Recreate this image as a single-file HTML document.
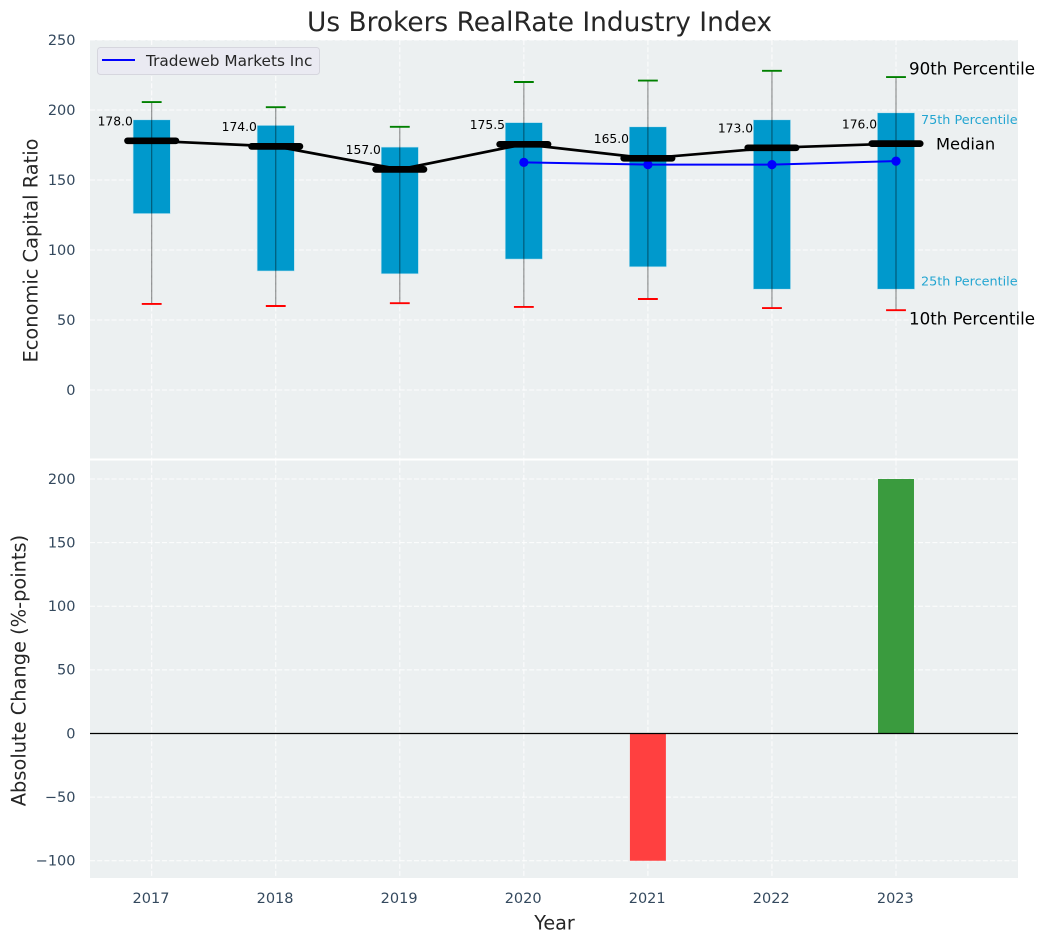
<!DOCTYPE html>
<html lang="en">
<head>
<meta charset="utf-8">
<title>Us Brokers RealRate Industry Index</title>
<style>
html,body{margin:0;padding:0;background:#fff;width:1044px;height:942px;overflow:hidden}
svg{display:block;font-family:"DejaVu Sans","Liberation Sans",sans-serif}
</style>
</head>
<body>
<svg id="chart" xmlns="http://www.w3.org/2000/svg" width="1044" height="942" viewBox="0 0 1044 942"></svg>
<script>
const years = [2017, 2018, 2019, 2020, 2021, 2022, 2023];
const p90 = [205.7, 202, 188, 220, 221, 228, 223.5];
const q75 = [193, 189, 173.5, 191, 188, 193, 198];
const medians = [178, 174, 157.6, 175.5, 165.5, 173, 176];
const medianLabels = ['178.0', '174.0', '157.0', '175.5', '165.0', '173.0', '176.0'];
const q25 = [126, 85, 83, 93.5, 88, 72, 72];
const p10 = [61.5, 60, 62, 59.3, 65, 58.5, 57];
const companyYears = [2020, 2021, 2022, 2023];
const companyValues = [162.6, 161, 161, 163.5];
const changeYears = [2021, 2023];
const changeValues = [-100, 200];
const topTicks = [0, 50, 100, 150, 200, 250];
const bottomTicks = [-100, -50, 0, 50, 100, 150, 200];

const svg = document.getElementById('chart');
const NS = 'http://www.w3.org/2000/svg';
const L = 90, R = 1018, T1 = 40, B1 = 458.5, T2 = 460.5, B2 = 878;
const X = v => 151.7 + (v - 2017) * 124.05;
const Y1 = v => 390 - v * 1.4;
const Y2 = v => 733.5 - v * 1.2725;

function make(tag, props, text) {
  const el = document.createElementNS(NS, tag);
  for (const k in props) el.setAttribute(k, props[k]);
  if (text !== undefined) el.textContent = text;
  svg.appendChild(el);
  return el;
}
let el;

el = make('rect', {x: L, y: T1, width: R - L, height: B1 - T1, fill: '#ecf0f1'});


el = make('rect', {x: L, y: T2, width: R - L, height: B2 - T2, fill: '#ecf0f1'});



const gridStyle = {stroke: '#fff', 'stroke-width': 1, 'stroke-dasharray': '5 2.2', opacity: 0.9};
years.forEach(yr => {
  el = make('line', {x1: X(yr), x2: X(yr), y1: T1, y2: B1, ...gridStyle});
  
  
  el = make('line', {x1: X(yr), x2: X(yr), y1: T2, y2: B2, ...gridStyle});
  
  
  el = make('text', {x: X(yr) - 0.7, y: 899, 'text-anchor': 'middle', 'dominant-baseline': 'central', 'font-size': 14.5, fill: '#34495e'}, String(yr));
  
  
});
topTicks.forEach(t => {
  el = make('line', {x1: L, x2: R, y1: Y1(t), y2: Y1(t), ...gridStyle});
  
  
  el = make('text', {x: 75.5, y: Y1(t) + 0.8, 'text-anchor': 'end', 'dominant-baseline': 'central', 'font-size': 14.5, fill: '#34495e'}, String(t));
  
  
});
bottomTicks.forEach(t => {
  el = make('line', {x1: L, x2: R, y1: Y2(t), y2: Y2(t), ...gridStyle});
  
  
  el = make('text', {x: 75.5, y: Y2(t) + 0.8, 'text-anchor': 'end', 'dominant-baseline': 'central', 'font-size': 14.5, fill: '#34495e'}, String(t).replace('-', '\u2212'));
  
  
});

const halfBox = 0.15;
years.forEach((yr, i) => {
  el = make('rect', {x: X(yr - halfBox), y: Y1(q75[i]), width: X(yr + halfBox) - X(yr - halfBox), height: Y1(q25[i]) - Y1(q75[i]), fill: '#0099cc', stroke: '#bfe3ef', 'stroke-width': 0.6});
  
  
});
years.forEach((yr, i) => {
  el = make('line', {x1: X(yr), x2: X(yr), y1: Y1(p90[i]), y2: Y1(p10[i]), stroke: '#000', 'stroke-opacity': 0.45, 'stroke-width': 1.1});
  
  
  el = make('line', {x1: X(yr - 0.08), x2: X(yr + 0.08), y1: Y1(p90[i]), y2: Y1(p90[i]), stroke: '#008000', 'stroke-width': 1.9});
  
  
  el = make('line', {x1: X(yr - 0.08), x2: X(yr + 0.08), y1: Y1(p10[i]), y2: Y1(p10[i]), stroke: '#ff0000', 'stroke-width': 1.9});
  
  
});

el = make('polyline', {points: years.map((yr, i) => X(yr) + ',' + Y1(medians[i])).join(' '), fill: 'none', stroke: '#000', 'stroke-width': 2.7});



el = make('polyline', {points: companyYears.map((yr, i) => X(yr) + ',' + Y1(companyValues[i])).join(' '), fill: 'none', stroke: '#0000ff', 'stroke-width': 2});


companyYears.forEach((yr, i) => {
  el = make('circle', {cx: X(yr), cy: Y1(companyValues[i]), r: 4.6, fill: '#0000ff'});
  
  
});

years.forEach((yr, i) => {
  el = make('line', {x1: X(yr - 0.195), x2: X(yr + 0.195), y1: Y1(medians[i]), y2: Y1(medians[i]), stroke: '#000', 'stroke-width': 6.7, 'stroke-linecap': 'round'});
  
  
  el = make('text', {x: X(yr) - 18.9, y: Y1(medians[i]) - 19.2, 'text-anchor': 'end', 'dominant-baseline': 'central', 'font-size': 12.3, fill: '#000'}, medianLabels[i]);
  
  
});

const last = years.length - 1;
const lastX = X(years[last]);
el = make('text', {x: lastX + 13, y: Y1(p90[last]) - 8.5, 'dominant-baseline': 'central', 'font-size': 16.7, fill: '#000'}, '90th Percentile');


el = make('text', {x: lastX + 25, y: Y1(q75[last]) + 7.5, 'dominant-baseline': 'central', 'font-size': 12.8, fill: '#0099cc', opacity: 0.85}, '75th Percentile');


el = make('text', {x: lastX + 40, y: Y1(medians[last]) + 0.5, 'dominant-baseline': 'central', 'font-size': 16.3, fill: '#000'}, 'Median');


el = make('text', {x: lastX + 25, y: Y1(q25[last]) - 7, 'dominant-baseline': 'central', 'font-size': 12.8, fill: '#0099cc', opacity: 0.85}, '25th Percentile');


el = make('text', {x: lastX + 13, y: Y1(p10[last]) + 8.5, 'dominant-baseline': 'central', 'font-size': 16.7, fill: '#000'}, '10th Percentile');



const halfChange = 0.145;
changeYears.forEach((yr, i) => {
  const v = changeValues[i];
  el = make('rect', {x: X(yr - halfChange), y: Math.min(Y2(v), Y2(0)), width: X(yr + halfChange) - X(yr - halfChange), height: Math.abs(Y2(v) - Y2(0)), fill: v < 0 ? '#ff4040' : '#3a9b3e'});
  
  
});
el = make('line', {x1: L, x2: R, y1: Y2(0), y2: Y2(0), stroke: '#000', 'stroke-width': 1.2});



el = make('rect', {x: 97.5, y: 47.5, width: 222, height: 27, rx: 3, fill: '#eaeaf2', stroke: '#d6d6de', 'stroke-width': 1});


el = make('line', {x1: 102, x2: 135, y1: 60, y2: 60, stroke: '#0000ff', 'stroke-width': 2});


el = make('text', {x: 146, y: 61, 'dominant-baseline': 'central', 'font-size': 15.3, fill: '#262626'}, 'Tradeweb Markets Inc');



el = make('text', {x: 539.5, y: 22.5, 'text-anchor': 'middle', 'dominant-baseline': 'central', 'font-size': 26.4, fill: '#262626'}, 'Us Brokers RealRate Industry Index');


el = make('text', {x: 554.5, y: 923, 'text-anchor': 'middle', 'dominant-baseline': 'central', 'font-size': 19.2, fill: '#262626'}, 'Year');


el = make('text', {x: 31, y: 250.5, 'text-anchor': 'middle', 'dominant-baseline': 'central', 'font-size': 19.4, fill: '#262626', transform: 'rotate(-90 31 250.5)'}, 'Economic Capital Ratio');


el = make('text', {x: 19, y: 670.5, 'text-anchor': 'middle', 'dominant-baseline': 'central', 'font-size': 19.4, fill: '#262626', transform: 'rotate(-90 19 670.5)'}, 'Absolute Change (%-points)');


</script>
</body>
</html>
